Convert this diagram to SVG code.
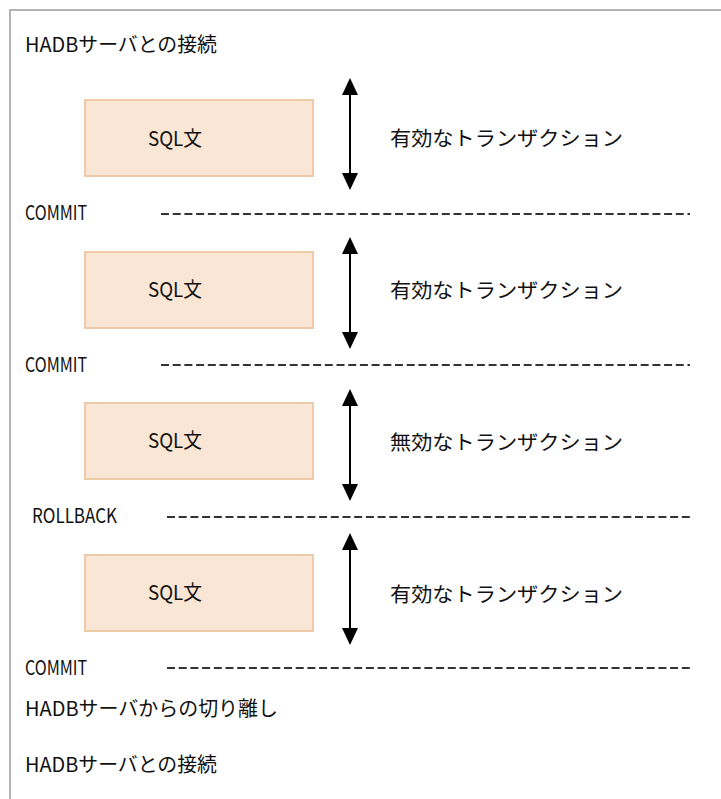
<svg xmlns="http://www.w3.org/2000/svg" width="721" height="799" viewBox="0 0 721 799">
<style>
.frame{stroke:#b3b3b3;stroke-width:2;fill:none}
.box{fill:#fae6d4;stroke:#efcaa6;stroke-width:2}
.t{font-family:"Noto Sans CJK JP","Noto Sans",sans-serif;font-size:20px;fill:#111}
.dash{stroke:#333;stroke-width:2;stroke-dasharray:8,3.7;fill:none}
.shaft{stroke:#000;stroke-width:2;fill:none}
.head{fill:#000}
</style>
<rect width="721" height="799" fill="#fff"/>
<path class="frame" d="M10,799 V10 H721"/>
<g id="labels">
<text class="t" x="25" y="52" textLength="192" lengthAdjust="spacingAndGlyphs">HADBサーバとの接続</text>
<text class="t" x="25" y="220" textLength="62" lengthAdjust="spacingAndGlyphs">COMMIT</text>
<text class="t" x="25" y="372" textLength="62" lengthAdjust="spacingAndGlyphs">COMMIT</text>
<text class="t" x="32" y="523" textLength="85" lengthAdjust="spacingAndGlyphs">ROLLBACK</text>
<text class="t" x="25" y="675" textLength="62" lengthAdjust="spacingAndGlyphs">COMMIT</text>
<text class="t" x="25" y="716" textLength="253" lengthAdjust="spacingAndGlyphs">HADBサーバからの切り離し</text>
<text class="t" x="25" y="772" textLength="192" lengthAdjust="spacingAndGlyphs">HADBサーバとの接続</text>
</g>
<g id="sql1"><rect class="box" x="85" y="100" width="228" height="76"/><text class="t" x="148" y="146" textLength="54" lengthAdjust="spacingAndGlyphs">SQL文</text></g>
<g id="sql2"><rect class="box" x="85" y="252" width="228" height="76"/><text class="t" x="148" y="297" textLength="54" lengthAdjust="spacingAndGlyphs">SQL文</text></g>
<g id="sql3"><rect class="box" x="85" y="403" width="228" height="76"/><text class="t" x="148" y="448" textLength="54" lengthAdjust="spacingAndGlyphs">SQL文</text></g>
<g id="sql4"><rect class="box" x="85" y="555" width="228" height="76"/><text class="t" x="148" y="600" textLength="54" lengthAdjust="spacingAndGlyphs">SQL文</text></g>
<g id="tx1"><text class="t" x="390" y="146" textLength="233" lengthAdjust="spacingAndGlyphs">有効なトランザクション</text></g>
<g id="tx2"><text class="t" x="390" y="298" textLength="233" lengthAdjust="spacingAndGlyphs">有効なトランザクション</text></g>
<g id="tx3"><text class="t" x="390" y="450" textLength="233" lengthAdjust="spacingAndGlyphs">無効なトランザクション</text></g>
<g id="tx4"><text class="t" x="390" y="602" textLength="233" lengthAdjust="spacingAndGlyphs">有効なトランザクション</text></g>
<g id="connectors">
<line class="dash" x1="161" y1="214" x2="690" y2="214"/>
<line class="dash" x1="161" y1="365" x2="690" y2="365"/>
<line class="dash" x1="167" y1="517" x2="693" y2="517"/>
<line class="dash" x1="167" y1="668" x2="693" y2="668"/>
<g>
<line class="shaft" x1="350" y1="92" x2="350" y2="176"/>
<polygon class="head" points="350,78 342,95 358,95"/>
<polygon class="head" points="350,190 342,173 358,173"/>
</g>
<g>
<line class="shaft" x1="350" y1="251" x2="350" y2="335"/>
<polygon class="head" points="350,237 342,254 358,254"/>
<polygon class="head" points="350,349 342,332 358,332"/>
</g>
<g>
<line class="shaft" x1="350" y1="403" x2="350" y2="487"/>
<polygon class="head" points="350,389 342,406 358,406"/>
<polygon class="head" points="350,501 342,484 358,484"/>
</g>
<g>
<line class="shaft" x1="350" y1="547" x2="350" y2="631"/>
<polygon class="head" points="350,533 342,550 358,550"/>
<polygon class="head" points="350,645 342,628 358,628"/>
</g>
</g>
</svg>
